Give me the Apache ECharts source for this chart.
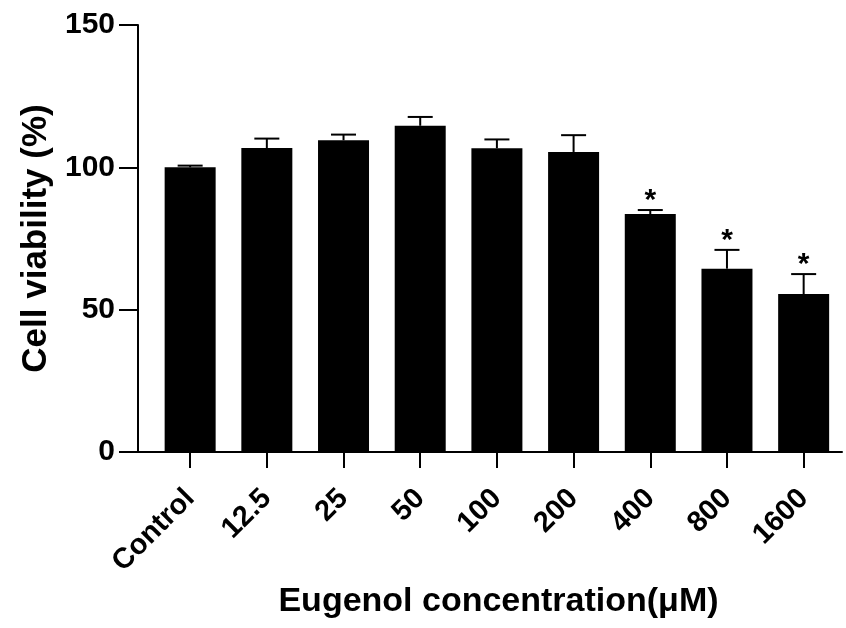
<!DOCTYPE html>
<html>
<head>
<meta charset="utf-8">
<script src="https://cdn.jsdelivr.net/npm/echarts@6/dist/echarts.min.js"></script>
<style>
  html, body { margin: 0; padding: 0; background: #fff; }
  #echarts { width: 846px; height: 628px; }
</style>
</head>
<body>
<div id="echarts"></div>
<script>
const categories = ['Control', '12.5', '25', '50', '100', '200', '400', '800', '1600'];
const viability = [100.0, 106.8, 109.5, 114.6, 106.7, 105.4, 83.6, 64.4, 55.5];
const errUpper = [100.6, 110.1, 111.5, 117.7, 109.8, 111.3, 85.0, 71.0, 62.5];
const significant = [false, false, false, false, false, false, true, true, true];
const yTicks = [0, 50, 100, 150];

const font = 'Liberation Sans, Arial, Helvetica, sans-serif';
const idx = categories.map((c, i) => i);

let myChart = echarts.init(document.getElementById('echarts'));
let option = {
  animation: false,
  grid: {
    left: 138,
    right: 4,
    top: 25,
    bottom: 176,
  },
  xAxis: {
    type: 'value',
    min: -0.68,
    max: 8.5,
    name: 'Eugenol concentration(μM)',
    nameLocation: 'middle',
    nameGap: 123,
    nameTextStyle: {
      fontFamily: font,
      fontWeight: 'bold',
      fontSize: 34,
      color: '#000',
      padding: [0, 0, 0, 17],
    },
    splitLine: { show: false },
    axisLine: { onZero: false, lineStyle: { color: '#000', width: 2 } },
    axisTick: {
      length: 16,
      lineStyle: { color: '#000', width: 2 },
      customValues: idx,
    },
    axisLabel: {
      customValues: idx,
      rotate: 45,
      margin: 42,
      fontFamily: font,
      fontWeight: 'bold',
      fontSize: 29,
      color: '#000',
      formatter: v => categories[Math.round(v)],
    },
  },
  yAxis: {
    type: 'value',
    min: yTicks[0],
    max: yTicks[yTicks.length - 1],
    interval: 50,
    name: 'Cell viability (%)',
    nameLocation: 'middle',
    nameGap: 84,
    nameTextStyle: {
      fontFamily: font,
      fontWeight: 'bold',
      fontSize: 35,
      color: '#000',
    },
    splitLine: { show: false },
    axisLine: { show: true, onZero: false, lineStyle: { color: '#000', width: 2 } },
    axisTick: { show: true, length: 19, lineStyle: { color: '#000', width: 2 } },
    axisLabel: {
      margin: 23,
      fontFamily: font,
      fontWeight: 'bold',
      fontSize: 30,
      color: '#000',
    },
  },
  series: [
    {
      name: 'viability',
      type: 'bar',
      barWidth: 51,
      itemStyle: { color: '#000' },
      data: viability.map((v, i) => [i, v]),
    },
    {
      name: 'sd',
      type: 'custom',
      z: 5,
      data: viability.map((v, i) => [i, v, errUpper[i], significant[i] ? 1 : 0]),
      renderItem(params, api) {
        const base = api.coord([api.value(0), api.value(1)]);
        const top = api.coord([api.value(0), api.value(2)]);
        const half = 12.5;
        const style = { stroke: '#000', lineWidth: 2 };
        const children = [
          { type: 'line', shape: { x1: top[0], y1: base[1], x2: top[0], y2: top[1] }, style },
          { type: 'line', shape: { x1: top[0] - half, y1: top[1], x2: top[0] + half, y2: top[1] }, style },
        ];
        if (api.value(3)) {
          children.push({
            type: 'text',
            style: {
              text: '*',
              x: top[0],
              y: top[1] + 6,
              align: 'center',
              verticalAlign: 'bottom',
              fontFamily: font,
              fontWeight: 'bold',
              fontSize: 30,
              fill: '#000',
            },
          });
        }
        return { type: 'group', children };
      },
    },
  ],
};
myChart.setOption(option);
</script>
</body>
</html>
